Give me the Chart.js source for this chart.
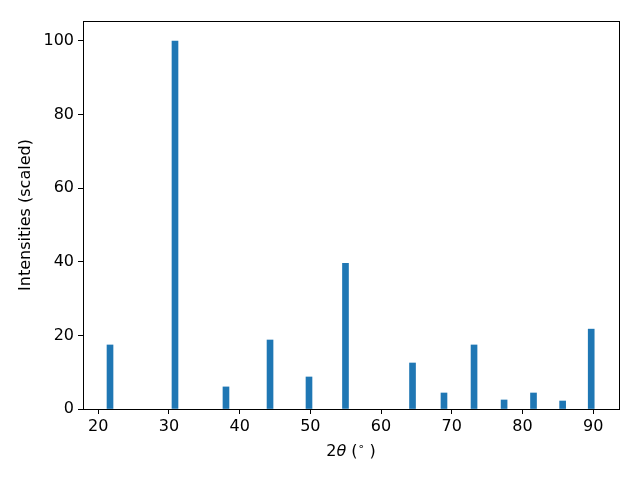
<!DOCTYPE html>
<html>
<head>
<meta charset="utf-8">
<script src="https://cdn.jsdelivr.net/npm/chart.js@4/dist/chart.umd.min.js"></script>
<style>
html,body{margin:0;padding:0;background:#fff;}
#wrap{width:640px;height:480px;position:relative;}
</style>
</head>
<body>
<div id="wrap"><canvas id="c" width="640" height="480"></canvas></div>
<script>
// Data
const twoTheta = [21.67, 30.86, 38.07, 44.30, 49.81, 54.97, 64.45, 68.9, 73.15, 77.4, 81.56, 85.68, 89.72];
const intensities = [17.4, 100, 6.0, 18.75, 8.7, 39.6, 12.5, 4.35, 17.4, 2.45, 4.35, 2.17, 21.7];
const xTicks = [20, 30, 40, 50, 60, 70, 80, 90];
const yTicks = [0, 20, 40, 60, 80, 100];
const yLabel = 'Intensities (scaled)';

const FONT = "'DejaVu Sans', sans-serif";
const FS = 16;

const frame = {
  id: 'frame',
  afterDraw(chart) {
    const {ctx, chartArea: a} = chart;
    ctx.save();
    ctx.strokeStyle = '#000';
    ctx.lineWidth = 1;
    ctx.strokeRect(Math.round(a.left) + 0.5, Math.round(a.top) + 0.5,
                   Math.round(a.right - a.left), Math.round(a.bottom - a.top));
    // x axis title: 2θ (°) with italic theta and superscript degree
    const cx = (a.left + a.right) / 2;
    const y = 452;
    const parts = [
      {t: '2', f: FS + 'px ' + FONT, dy: 0},
      {t: 'θ', f: 'oblique ' + FS + 'px ' + FONT, dy: 0},
      {t: ' (', f: FS + 'px ' + FONT, dy: 0},
      {t: '∘', f: '11px ' + FONT, dy: -5},
      {t: ' )', f: FS + 'px ' + FONT, dy: 0}
    ];
    let total = 0;
    parts.forEach(p => { ctx.font = p.f; p.w = ctx.measureText(p.t).width; total += p.w; });
    let x = cx - total / 2;
    ctx.fillStyle = '#000';
    ctx.textBaseline = 'middle';
    ctx.textAlign = 'left';
    parts.forEach(p => { ctx.font = p.f; ctx.fillText(p.t, x, y + p.dy); x += p.w; });
    ctx.restore();
  }
};

new Chart(document.getElementById('c'), {
  type: 'bar',
  data: {
    datasets: [{
      data: twoTheta.map((v, i) => ({x: v, y: intensities[i]})),
      backgroundColor: '#1f77b4',
      borderWidth: 0,
      barThickness: 6
    }]
  },
  options: {
    responsive: false,
    animation: false,
    events: [],
    layout: {padding: {left: 0, top: 21, right: 21, bottom: 0}},
    plugins: {legend: {display: false}, tooltip: {enabled: false}},
    scales: {
      x: {
        type: 'linear',
        min: 17.85,
        max: 93.65,
        offset: false,
        afterBuildTicks: s => { s.ticks = xTicks.map(v => ({value: v})); },
        afterFit: s => { s.height = 71; },
        border: {display: false},
        grid: {display: true, offset: false, drawOnChartArea: false, drawTicks: true, tickLength: 5, color: '#000', lineWidth: 1},
        ticks: {color: '#000', font: {family: FONT, size: FS}, padding: 3, maxRotation: 0, autoSkip: false}
      },
      y: {
        type: 'linear',
        min: 0,
        max: 105.43,
        afterBuildTicks: s => { s.ticks = yTicks.map(v => ({value: v})); },
        afterFit: s => { s.width = 83; },
        border: {display: false},
        grid: {display: true, drawOnChartArea: false, drawTicks: true, tickLength: 5, color: '#000', lineWidth: 1},
        ticks: {color: '#000', font: {family: FONT, size: FS}, padding: 4, autoSkip: false},
        title: {display: true, text: yLabel, color: '#000', font: {family: FONT, size: FS}, padding: {top: 16, bottom: 0}}
      }
    }
  },
  plugins: [frame]
});
</script>
</body>
</html>
